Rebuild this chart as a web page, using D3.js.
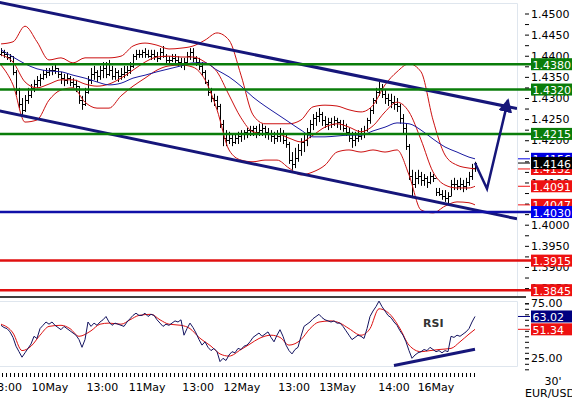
<!DOCTYPE html>
<html lang="en">
<head>
<meta charset="UTF-8">
<script src="https://d3js.org/d3.v7.min.js"></script>
<style>
  body { margin: 0; background: #fff; }
  svg { display: block; font-family: "DejaVu Sans", sans-serif; }
</style>
</head>
<body>
<script>
// EUR/USD 30' bars, prices in pips (14000 = 1.4000)
const firstOpen = 14404
const barHigh = [14418,14414,14409,14404,14399,14366,14324,14300,14307,14324,
  14333,14343,14352,14357,14366,14371,14371,14376,14378,14371,
  14362,14357,14357,14352,14347,14343,14328,14305,14324,14352,
  14371,14376,14366,14376,14385,14385,14390,14376,14371,14366,
  14371,14376,14376,14385,14404,14414,14414,14414,14418,14414,
  14414,14414,14409,14418,14423,14404,14399,14404,14404,14399,
  14395,14395,14409,14418,14418,14399,14395,14385,14366,14343,
  14324,14310,14305,14286,14248,14224,14220,14215,14215,14220,
  14224,14224,14229,14234,14234,14234,14239,14239,14234,14229,
  14224,14220,14224,14229,14224,14215,14196,14172,14182,14191,
  14205,14215,14229,14248,14262,14267,14276,14267,14257,14253,
  14253,14257,14253,14248,14248,14239,14229,14220,14220,14224,
  14229,14234,14253,14276,14300,14324,14338,14333,14319,14310,
  14310,14305,14300,14286,14262,14239,14191,14130,14125,14130,
  14125,14120,14115,14125,14120,14087,14087,14082,14082,14077,
  14106,14111,14106,14111,14106,14111,14125,14144,14149]
const barLow = [14399,14395,14390,14385,14354,14307,14276,14260,14267,14286,
  14300,14314,14324,14328,14343,14347,14352,14354,14357,14347,
  14333,14328,14333,14328,14324,14314,14286,14272,14281,14310,
  14333,14343,14338,14343,14347,14347,14352,14343,14343,14338,
  14343,14347,14352,14357,14371,14390,14395,14395,14395,14395,
  14390,14390,14385,14390,14395,14381,14381,14385,14381,14376,
  14371,14366,14381,14390,14385,14376,14366,14352,14333,14305,
  14290,14281,14272,14229,14186,14186,14191,14186,14191,14191,
  14196,14201,14205,14210,14210,14205,14210,14210,14205,14201,
  14196,14191,14196,14196,14191,14182,14144,14130,14134,14149,
  14163,14172,14186,14205,14224,14234,14243,14234,14229,14224,
  14229,14234,14229,14224,14220,14210,14196,14182,14186,14196,
  14201,14205,14220,14239,14262,14286,14305,14300,14286,14281,
  14276,14272,14267,14239,14215,14177,14106,14063,14087,14096,
  14092,14092,14087,14096,14101,14068,14068,14059,14054,14049,
  14068,14082,14082,14082,14077,14082,14092,14106,14125]
const barClose = [14409,14404,14397,14399,14362,14319,14286,14272,14295,14307,
  14324,14333,14343,14347,14357,14362,14366,14366,14371,14357,
  14347,14343,14347,14338,14333,14328,14295,14286,14314,14343,
  14357,14362,14352,14366,14371,14357,14366,14352,14362,14352,
  14357,14362,14366,14376,14399,14404,14404,14409,14404,14399,
  14404,14399,14395,14409,14399,14390,14390,14395,14390,14385,
  14381,14385,14399,14409,14395,14385,14376,14362,14338,14314,
  14300,14295,14281,14239,14205,14201,14205,14196,14205,14210,
  14215,14220,14224,14224,14229,14220,14224,14229,14220,14215,
  14210,14205,14210,14215,14201,14191,14153,14144,14158,14177,
  14196,14201,14220,14239,14253,14257,14262,14248,14239,14243,
  14239,14248,14243,14239,14229,14220,14205,14201,14205,14210,
  14215,14224,14248,14272,14295,14314,14324,14310,14300,14295,
  14290,14286,14281,14253,14229,14186,14115,14096,14111,14115,
  14106,14111,14101,14115,14111,14077,14073,14068,14063,14068,
  14096,14096,14092,14096,14092,14101,14115,14134,14146]

// bollinger bands + moving average, read every 4 bars
const indIdx = [0,4,8,12,16,20,24,28,32,36,40,44,48,52,56,60,64,68,72,76,80,84,88,92,96,100,104,108,112,116,120,124,128,132,136,140,144,148,152,156,158]
const bbUpper = [14428,14433,14470,14433,14390,14395,14383,14395,14395,14395,14399,14423,14430,14425,14416,14418,14423,14437,14454,14437,14354,14260,14239,14239,14239,14248,14279,14283,14281,14272,14267,14283,14331,14362,14381,14362,14248,14165,14141,14134,14132]
const bbMid = [14402,14385,14338,14324,14333,14343,14343,14333,14328,14333,14347,14366,14385,14397,14399,14397,14397,14385,14362,14307,14253,14220,14215,14215,14205,14196,14212,14231,14239,14231,14220,14234,14267,14290,14267,14201,14125,14094,14087,14087,14091]
const bbLower = [14378,14331,14243,14248,14295,14319,14324,14290,14276,14276,14305,14328,14347,14366,14376,14378,14373,14343,14272,14177,14153,14149,14153,14153,14134,14118,14125,14141,14172,14177,14172,14177,14172,14177,14118,14035,14028,14044,14054,14052,14047]
const maLine = [14414,14397,14381,14369,14364,14362,14354,14347,14338,14331,14335,14347,14354,14362,14369,14376,14383,14383,14366,14350,14328,14302,14281,14262,14243,14224,14208,14208,14210,14212,14212,14222,14231,14241,14239,14224,14203,14184,14172,14160,14156]

// RSI, one value per bar
const rsiVal = [55,53,52,49,44,36,31,26,30,34,
  38,45,43,52,55,58,56,58,55,53,
  51,54,52,50,48,46,42,35,42,58,
  54,57,55,58,60,63,58,55,57,56,
  55,54,58,61,64,66,64,64,66,63,
  65,64,60,57,54,56,55,57,59,58,
  60,46,52,57,53,48,42,37,40,35,
  32,34,31,22,25,23,28,31,30,34,
  33,36,37,40,44,46,48,45,47,49,
  44,40,46,51,45,37,32,29,33,35,
  45,54,56,58,61,63,65,62,60,59,
  58,59,57,57,54,50,46,42,44,46,
  45,43,52,63,68,72,77,72,68,64,
  62,58,55,50,46,40,32,25,28,30,
  31,33,32,35,33,31,32,30,32,31,
  45,44,46,45,47,49,52,58,63.02]
// RSI signal line, read at irregular bars
const sigIdx = [0,4,7,10,13,16,20,23,26,30,33,36,40,43,46,50,53,56,60,63,66,70,73,76,80,83,86,90,93,96,100,103,106,110,113,116,120,123,126,130,133,136,140,143,146,150,153,156,158]
const sigVal = [56,48,32,36,46,54,55,52,45,50,56,57,56,60,64,65,60,56,55,52,44,36,29,27,33,38,43,46,44,37,42,52,58,59,57,52,46,52,70,64,52,37,31,32,33,34,40,47,51.34]
const rsiTrend = [[131, 18.5], [158, 33.2]]

// drawn levels
const greenLevels = [1.4380, 1.4320, 1.4215]
const redLevels = [1.3915, 1.3845]
const blueLevel = 1.4030
const upperChannel = [[-1, 1.4527], [172, 1.4275]]
const lowerChannel = [[-1, 1.4270], [172, 1.4014]]
const arrowPath = [[158, 1.4146], [162, 1.4085], [169, 1.4295]]

// axis labels
const priceTicks = d3.range(13850, 14501, 50).map(d => d / 10000)
const priceMinor = d3.range(13875, 14500, 50).map(d => d / 10000)
const rsiTicks = [75, 25]
const rsiMinor = d3.range(15, 80, 5)
const timeLabelIdx = [1.7, 16.3, 33.8, 48.7, 65.7, 80.3, 97.7, 112.2, 131, 145]
const timeLabels = ["13:00", "10May", "13:00", "11May", "13:00", "12May", "13:00", "13May", "14:00", "16May"]

const width = 572, height = 399
const plotRight = 517

const svg = d3.select("body").append("svg")
  .attr("width", width)
  .attr("height", height)

const x = d3.scaleLinear().domain([0, 172]).range([1, plotRight])
const y = d3.scaleLinear().domain([1.38, 1.45]).range([309.2, 13.5])
const yr = d3.scaleLinear().domain([25, 75]).range([358.3, 303.3])
const p = v => v / 10000

const defs = svg.append("defs")
defs.append("clipPath").attr("id", "clipPrice")
  .append("rect").attr("x", 0).attr("y", 0).attr("width", plotRight).attr("height", 296)
defs.append("clipPath").attr("id", "clipRsi")
  .append("rect").attr("x", 0).attr("y", 298).attr("width", plotRight).attr("height", 70)
defs.append("marker").attr("id", "head")
  .attr("markerUnits", "userSpaceOnUse")
  .attr("markerWidth", 16).attr("markerHeight", 14)
  .attr("refX", 12).attr("refY", 7)
  .attr("orient", "auto")
  .append("path").attr("d", "M0,0 L14,7 L0,14 Z").attr("fill", "#16167a")

// faint frames
const frame = svg.append("g").attr("stroke", "#dfe6ee").attr("fill", "none")
frame.append("path").attr("d", `M0,3.5 H${plotRight + 0.5} V296`)
frame.append("path").attr("d", `M0,301.5 H${plotRight + 0.5} V366.5 H0`)

/* price panel */
const price = svg.append("g").attr("clip-path", "url(#clipPrice)")

price.append("g")
  .selectAll("path")
  .data(barHigh)
  .join("path")
  .attr("fill", "none")
  .attr("stroke", "#000")
  .attr("stroke-width", 1)
  .attr("d", (h, i) => {
    const cx = Math.round(x(i)) + 0.5
    const o = i === 0 ? firstOpen : barClose[i - 1]
    return `M${cx},${y(p(h))}V${y(p(barLow[i]))}` +
      `M${cx - 1.5},${Math.round(y(p(o))) + 0.5}H${cx}` +
      `M${cx},${Math.round(y(p(barClose[i]))) + 0.5}H${cx + 1.5}`
  })

const indLine = d3.line()
  .x(d => x(d[0]))
  .y(d => y(p(d[1])))
  .curve(d3.curveMonotoneX)

;[bbUpper, bbMid, bbLower].forEach(arr => {
  price.append("path")
    .datum(indIdx.map((d, i) => [d, arr[i]]))
    .attr("d", indLine)
    .attr("fill", "none")
    .attr("stroke", "#cc1010")
    .attr("stroke-width", 1)
})
price.append("path")
  .datum(indIdx.map((d, i) => [d, maLine[i]]))
  .attr("d", indLine)
  .attr("fill", "none")
  .attr("stroke", "#1a1aa0")
  .attr("stroke-width", 1)

// horizontal levels
const levels = svg.append("g")
greenLevels.forEach(v => {
  levels.append("line").attr("x1", 0).attr("x2", 531)
    .attr("y1", y(v)).attr("y2", y(v))
    .attr("stroke", "#0a7d0a").attr("stroke-width", 2.5)
})
redLevels.forEach(v => {
  levels.append("line").attr("x1", 0).attr("x2", 531)
    .attr("y1", y(v)).attr("y2", y(v))
    .attr("stroke", "#e01010").attr("stroke-width", 2.5)
})
levels.append("line").attr("x1", 0).attr("x2", 531)
  .attr("y1", y(blueLevel)).attr("y2", y(blueLevel))
  .attr("stroke", "#1010a8").attr("stroke-width", 2.5)

// channel and projection
const straight = d3.line().x(d => x(d[0])).y(d => y(d[1]))
;[upperChannel, lowerChannel].forEach(c => {
  price.append("path").datum(c).attr("d", straight)
    .attr("stroke", "#16167a").attr("stroke-width", 3).attr("fill", "none")
})
svg.append("path").datum(arrowPath).attr("d", straight)
  .attr("stroke", "#16167a").attr("stroke-width", 2.5).attr("fill", "none")
  .attr("stroke-linejoin", "miter")
  .attr("marker-end", "url(#head)")

// separator
svg.append("line").attr("x1", 0).attr("x2", 526).attr("y1", 297).attr("y2", 297)
  .attr("stroke", "#000").attr("stroke-width", 1.5)

/* RSI panel */
const rsi = svg.append("g").attr("clip-path", "url(#clipRsi)")
rsi.append("path")
  .datum(sigIdx.map((d, i) => [d, sigVal[i]]))
  .attr("d", d3.line().x(d => x(d[0])).y(d => yr(d[1])).curve(d3.curveMonotoneX))
  .attr("fill", "none").attr("stroke", "#dd1111").attr("stroke-width", 1)
rsi.append("path")
  .datum(rsiVal)
  .attr("d", d3.line().x((d, i) => x(i)).y(d => yr(d)))
  .attr("fill", "none").attr("stroke", "#141460").attr("stroke-width", 1)
rsi.append("path")
  .datum(rsiTrend)
  .attr("d", d3.line().x(d => x(d[0])).y(d => yr(d[1])))
  .attr("fill", "none").attr("stroke", "#16167a").attr("stroke-width", 3)
svg.append("text").attr("x", 423).attr("y", 327)
  .attr("font-size", 11).attr("font-weight", "bold").attr("fill", "#333")
  .text("RSI")

/* right axes */
svg.append("g")
  .attr("transform", "translate(525,0)")
  .call(d3.axisRight(y).tickValues(priceTicks).tickSize(4).tickPadding(2).tickFormat(d3.format(".4f")))
  .call(g => g.select(".domain").remove())
  .call(g => g.selectAll("text").attr("font-size", 11).attr("font-family", "DejaVu Sans").attr("fill", "#000"))
svg.append("g")
  .attr("transform", "translate(525,0)")
  .call(d3.axisRight(y).tickValues(priceMinor).tickSize(4).tickFormat(""))
  .call(g => g.select(".domain").remove())

svg.append("g")
  .attr("transform", "translate(525,0)")
  .call(d3.axisRight(yr).tickValues(rsiTicks).tickSize(4).tickPadding(2).tickFormat(d3.format(".2f")))
  .call(g => g.select(".domain").remove())
  .call(g => g.selectAll("text").attr("font-size", 11).attr("font-family", "DejaVu Sans").attr("fill", "#000"))
svg.append("g")
  .attr("transform", "translate(525,0)")
  .call(d3.axisRight(yr).tickValues(rsiMinor).tickSize(4).tickFormat(""))
  .call(g => g.select(".domain").remove())

// value tags
const tags = svg.append("g")
function tag(cy, label, color, mark) {
  if (mark) {
    tags.append("line").attr("x1", 518).attr("x2", 530).attr("y1", cy).attr("y2", cy)
      .attr("stroke", color).attr("stroke-width", 1)
  }
  tags.append("rect").attr("x", 531).attr("y", cy - 6).attr("width", 42).attr("height", 12).attr("fill", color)
  tags.append("text").attr("x", 532.5).attr("y", cy + 4.5)
    .attr("font-size", 11).attr("fill", "#fff").text(label)
}
const f4 = d3.format(".4f")
greenLevels.forEach(v => tag(y(v), f4(v), "#0a7d0a", false))
tag(y(p(maLine[maLine.length - 1])), f4(p(maLine[maLine.length - 1])), "#0000e0", true)
tag(y(p(bbUpper[bbUpper.length - 1])), f4(p(bbUpper[bbUpper.length - 1])), "#ee1111", true)
tag(y(p(barClose[barClose.length - 1])), f4(p(barClose[barClose.length - 1])), "#000", true)
tag(y(p(bbMid[bbMid.length - 1])), f4(p(bbMid[bbMid.length - 1])), "#ee1111", true)
tag(y(p(bbLower[bbLower.length - 1])), f4(p(bbLower[bbLower.length - 1])), "#ee1111", true)
tag(y(blueLevel), f4(blueLevel), "#0000ee", false)
redLevels.forEach(v => tag(y(v), f4(v), "#ee1111", false))
tag(yr(rsiVal[rsiVal.length - 1]), d3.format(".2f")(rsiVal[rsiVal.length - 1]), "#000080", true)
tag(yr(sigVal[sigVal.length - 1]), d3.format(".2f")(sigVal[sigVal.length - 1]), "#ee1111", true)

/* time axis */
svg.append("g")
  .selectAll("line")
  .data(d3.range(1 / 3, 158, 4 / 3))
  .join("line")
  .attr("x1", d => Math.round(x(d)) + 0.5).attr("x2", d => Math.round(x(d)) + 0.5)
  .attr("y1", 373).attr("y2", 377)
  .attr("stroke", "#000")
svg.append("g")
  .selectAll("text")
  .data(timeLabelIdx)
  .join("text")
  .attr("x", d => x(d))
  .attr("y", 391)
  .attr("text-anchor", "middle")
  .attr("font-size", 11)
  .text((d, i) => timeLabels[i])

svg.append("text").attr("x", 553).attr("y", 385).attr("text-anchor", "middle")
  .attr("font-size", 11).text("30'")
svg.append("text").attr("x", 525).attr("y", 397)
  .attr("font-size", 11).text("EUR/USD")
</script>
</body>
</html>
